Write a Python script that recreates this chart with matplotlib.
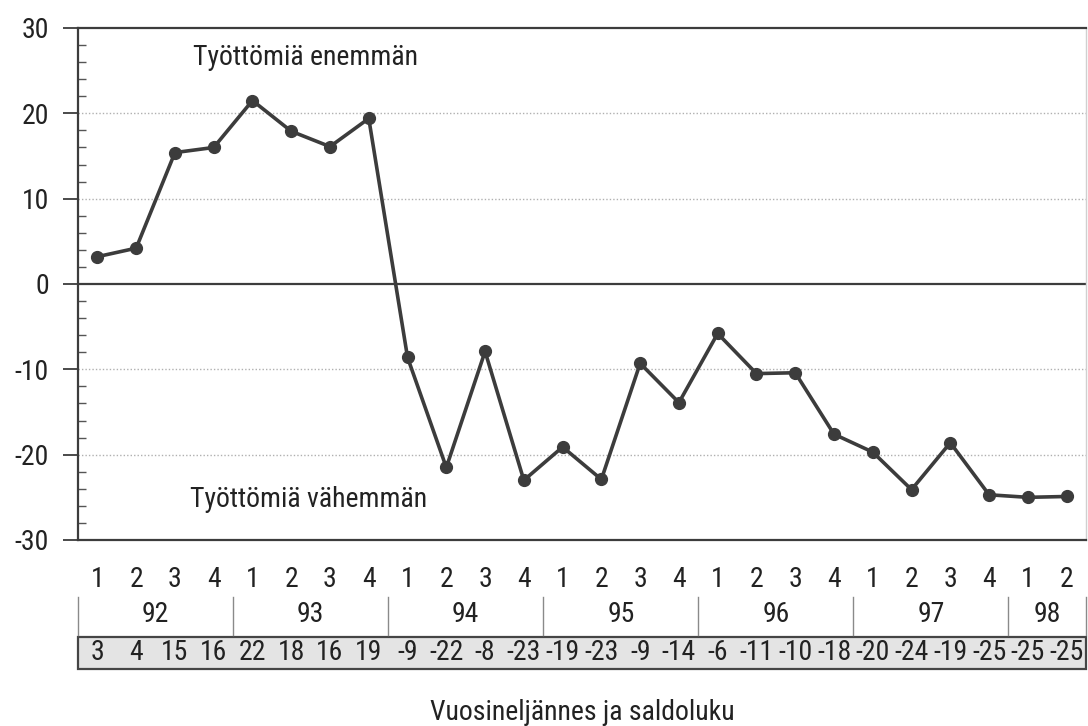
import matplotlib
matplotlib.use("Agg")
import matplotlib.pyplot as plt
from matplotlib.patches import Rectangle
from matplotlib.ticker import MultipleLocator

plt.rcParams['font.family'] = ['Roboto Condensed', 'DejaVu Sans']

# Data
quarters = ["1", "2", "3", "4"] * 6 + ["1", "2"]
years = ["92", "93", "94", "95", "96", "97", "98"]
year_quarters = [4, 4, 4, 4, 4, 4, 2]
values = [3.2, 4.2, 15.4, 16.0, 21.5, 17.9, 16.1, 19.4,
          -8.6, -21.5, -7.9, -23.0, -19.1, -22.9, -9.3, -13.9,
          -5.8, -10.5, -10.4, -17.6, -19.7, -24.1, -18.6, -24.7,
          -25.0, -24.9]
saldo_labels = ["3", "4", "15", "16", "22", "18", "16", "19",
                "-9", "-22", "-8", "-23", "-19", "-23", "-9", "-14",
                "-6", "-11", "-10", "-18", "-20", "-24", "-19", "-25",
                "-25", "-25"]
y_ticks = [-30, -20, -10, 0, 10, 20, 30]
text_more = "Työttömiä enemmän"
text_less = "Työttömiä vähemmän"
x_title = "Vuosineljännes ja saldoluku"

W, H = 1088, 726
fig = plt.figure(figsize=(W / 100, H / 100), dpi=100)
L, R, T, B = 78, 1086, 28, 540
ax = fig.add_axes([L / W, 1 - B / H, (R - L) / W, (B - T) / H])

dark = "#3c3c3c"
txt = "#222222"
fs = 20
x = list(range(len(values)))

ax.set_xlim(-0.5, len(values) - 0.5)
ax.set_ylim(-30, 30)

# grid lines
for yv in [-20, -10, 10, 20]:
    ax.axhline(yv, color="#b0b0b0", lw=1.0, ls=(0, (1, 1.5)), zorder=1)
ax.axhline(0, color=dark, lw=1.6, zorder=2)

ax.plot(x, values, color=dark, lw=2.6, marker="o", ms=8.5,
        markerfacecolor=dark, markeredgecolor=dark, zorder=3)

# spines
for s in ["top", "bottom", "left"]:
    ax.spines[s].set_color(dark)
    ax.spines[s].set_linewidth(1.6)
ax.spines["right"].set_color("#d0d0d0")
ax.spines["right"].set_linewidth(1.0)

ax.set_yticks(y_ticks)
ax.set_yticklabels([str(v) for v in y_ticks])
ax.yaxis.set_minor_locator(MultipleLocator(2))
ax.tick_params(axis="y", which="major", direction="out", length=11, width=1.3,
               color=dark, labelsize=fs, labelcolor=txt, pad=10)
ax.tick_params(axis="y", which="minor", direction="in", length=5.5, width=1.0,
               color="#555555")

ax.set_xticks(x)
ax.set_xticklabels(quarters)
ax.tick_params(axis="x", which="major", length=0, labelsize=fs,
               labelcolor=txt, pad=19)

xt = ax.get_xaxis_transform()

def fy(py):
    return (B - py) / (B - T)

# year labels and separators
start = 0
bounds = [-0.5]
for yr, n in zip(years, year_quarters):
    center = start + (n - 1) / 2
    ax.text(center, fy(615), yr, transform=xt, ha="center", va="center",
            fontsize=fs, color=txt, clip_on=False)
    start += n
    bounds.append(start - 0.5)
for b in bounds:
    ax.plot([b, b], [fy(597), fy(635)], transform=xt, color="#8a8a8a",
            lw=1.0, clip_on=False)

# table box
rect = Rectangle((-0.5, fy(669)), len(values), fy(637) - fy(669), transform=xt,
                 facecolor="#e4e4e4", edgecolor="#454545", lw=1.6,
                 clip_on=False)
ax.add_patch(rect)
for xi, lab in zip(x, saldo_labels):
    ax.text(xi, fy(653), lab, transform=xt, ha="center", va="center",
            fontsize=fs, color=txt, clip_on=False)

ax.text(0.5, fy(712), x_title, transform=ax.transAxes, ha="center",
        va="center", fontsize=fs, color=txt)

ax.text(2.47, 26.6, text_more, ha="left", va="center", fontsize=fs, color=txt)
ax.text(2.39, -25.3, text_less, ha="left", va="center", fontsize=fs, color=txt)

fig.savefig("out.png", dpi=100)
